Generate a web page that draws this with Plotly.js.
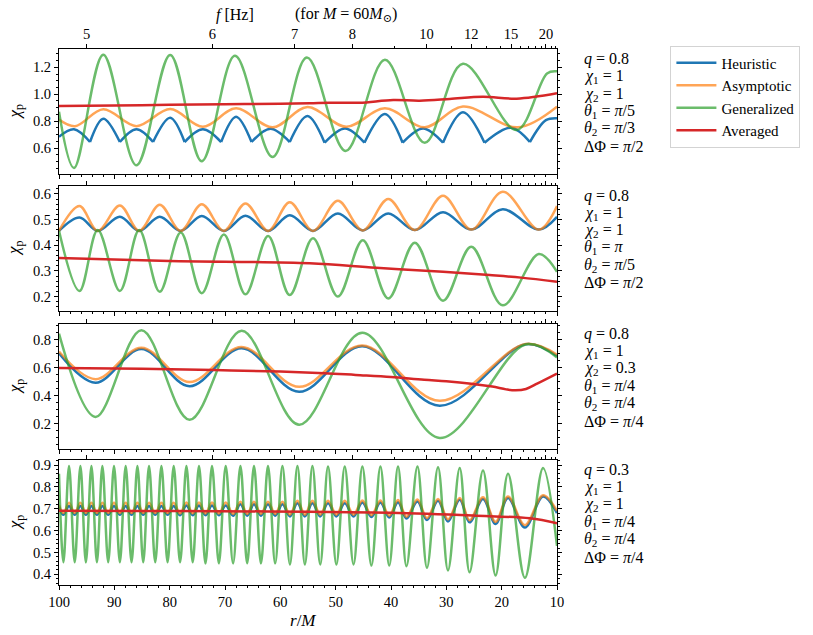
<!DOCTYPE html>
<html>
<head>
<meta charset="utf-8">
<script src="https://cdn.plot.ly/plotly-3.0.1.min.js"></script>
<style>
  body { margin: 0; background: #fff; }
  #chart { width: 813px; height: 635px; }
</style>
</head>
<body>
<div id="chart"></div>
<script>
// values: r/M positions of turning points and chi_p there

// panel 1
const p1GreenR = [100, 97.3, 92.0, 86.0, 79.9, 74.2, 68.2, 61.4, 55.2, 48.2, 41.1, 33.9, 27.0, 17.3, 11.8, 10];
const p1GreenV = [0.87, 0.452, 1.293, 0.472, 1.291, 0.502, 1.286, 0.534, 1.273, 0.579, 1.256, 0.639, 1.226, 0.734, 1.155, 1.17];
const p1OrangeR = [100, 97.1, 92.0, 86.0, 79.9, 74.0, 68.0, 61.4, 55.1, 48.1, 41.1, 33.9, 27.0, 17.1, 10];
const p1OrangeV = [0.813, 0.763, 0.888, 0.763, 0.890, 0.758, 0.895, 0.754, 0.905, 0.758, 0.895, 0.754, 0.908, 0.754, 0.908];
// heuristic curve has cusps: knots are the cusps, arches are the humps between them
const p1BlueKnotR = [100, 94.4, 89.0, 83.0, 77.3, 70.7, 65.2, 58.3, 52.0, 44.8, 37.9, 30.6, 23.1, 14.9, 10];
const p1BlueKnotV = [0.684, 0.645, 0.645, 0.645, 0.645, 0.645, 0.645, 0.645, 0.64, 0.64, 0.64, 0.64, 0.64, 0.645, 0.822];
const p1BlueArchR = [97.3, 92.0, 86.0, 79.9, 74.0, 68.0, 61.8, 55.1, 48.3, 41.1, 34.2, 27.0, 18.3, 12.0];
const p1BlueArchV = [0.739, 0.818, 0.739, 0.825, 0.739, 0.833, 0.743, 0.838, 0.746, 0.853, 0.746, 0.866, 0.751, 0.808];
const p1RedR = [100, 90, 80, 70, 60, 54.7, 51.1, 45.7, 39.6, 34.8, 29.4, 23.4, 17.3, 10];
const p1RedV = [0.912, 0.916, 0.921, 0.926, 0.929, 0.933, 0.937, 0.937, 0.957, 0.952, 0.965, 0.982, 0.967, 1.007];

// panel 2
const p2R = [100, 96.3, 93.0, 89.0, 85.5, 81.8, 78.0, 74.2, 70.2, 66.3, 62.2, 58.3, 54.1, 49.6, 45.1, 40.5, 35.7, 30.6, 25.5, 19.8, 13.3, 10];
const p2BlueV = [0.456, 0.508, 0.456, 0.511, 0.456, 0.511, 0.456, 0.514, 0.456, 0.515, 0.456, 0.517, 0.456, 0.524, 0.458, 0.524, 0.459, 0.529, 0.461, 0.54, 0.461, 0.511];
const p2OrangeV = [0.456, 0.553, 0.456, 0.555, 0.456, 0.558, 0.456, 0.56, 0.456, 0.563, 0.456, 0.568, 0.456, 0.573, 0.458, 0.58, 0.459, 0.593, 0.461, 0.608, 0.461, 0.553];
const p2GreenV = [0.456, 0.222, 0.459, 0.222, 0.459, 0.219, 0.45, 0.213, 0.442, 0.209, 0.436, 0.206, 0.427, 0.2, 0.42, 0.193, 0.41, 0.184, 0.394, 0.166, 0.366, 0.297];
const p2RedR = [100, 80, 54.7, 42.7, 30.6, 22.2, 16.5, 10];
const p2RedV = [0.350, 0.339, 0.330, 0.312, 0.297, 0.284, 0.274, 0.258];

// panel 3
const p3R = [100, 93.4, 85.1, 76.4, 67.0, 56.6, 45.2, 31.2, 15.7, 10];
const p3BlueV = [0.705, 0.495, 0.735, 0.47, 0.74, 0.43, 0.755, 0.33, 0.77, 0.685];
const p3OrangeV = [0.718, 0.52, 0.745, 0.50, 0.75, 0.465, 0.76, 0.365, 0.772, 0.695];
const p3GreenV = [0.845, 0.25, 0.87, 0.23, 0.865, 0.195, 0.852, 0.10, 0.768, 0.675];
const p3RedR = [100, 85, 72, 60, 52, 46.4, 40, 34, 30, 25.5, 21.7, 19.2, 17.5, 15.6, 13.5, 10];
const p3RedV = [0.600, 0.594, 0.585, 0.575, 0.563, 0.55, 0.535, 0.515, 0.505, 0.488, 0.467, 0.447, 0.44, 0.45, 0.49, 0.56];

// panel 4 (fast oscillation: troughs and peaks alternate, trough k comes before peak k)
const p4TroughR = [99.2, 97.16, 95.14, 93.15, 91.11, 89.0, 86.89, 84.78, 82.61, 80.38, 78.12, 75.84, 73.53, 71.11, 68.54, 65.99,
  63.5, 60.93, 58.27, 55.56, 52.79, 49.87, 46.77, 43.54, 40.32, 37.2, 33.5, 29.7, 25.8, 21.1, 15.8];
const p4PeakR = [98.19, 96.13, 94.14, 92.16, 90.06, 87.95, 85.83, 83.73, 81.49, 79.27, 76.97, 74.70, 72.35, 69.87, 67.21, 64.76,
  62.23, 59.62, 56.91, 54.20, 51.38, 48.36, 45.17, 41.91, 38.73, 35.22, 31.50, 27.58, 23.37, 18.85, 12.52];
const p4GreenTroughV = [0.455, 0.455, 0.455, 0.455, 0.455, 0.455, 0.455, 0.455, 0.455, 0.455, 0.455, 0.455, 0.45, 0.45, 0.45, 0.45,
  0.45, 0.45, 0.445, 0.445, 0.445, 0.445, 0.445, 0.44, 0.44, 0.437, 0.43, 0.418, 0.409, 0.395, 0.384];
const p4GreenPeakV = [0.895, 0.895, 0.895, 0.895, 0.895, 0.895, 0.895, 0.895, 0.895, 0.895, 0.895, 0.895, 0.895, 0.895, 0.895, 0.895,
  0.895, 0.895, 0.895, 0.895, 0.893, 0.893, 0.893, 0.893, 0.893, 0.893, 0.89, 0.886, 0.875, 0.86, 0.886];
const p4BlueTroughV = [0.672, 0.672, 0.672, 0.672, 0.672, 0.672, 0.672, 0.672, 0.672, 0.672, 0.67, 0.67, 0.67, 0.67, 0.668, 0.668,
  0.668, 0.668, 0.665, 0.665, 0.665, 0.665, 0.665, 0.662, 0.66, 0.655, 0.648, 0.642, 0.638, 0.63, 0.614];
const p4BluePeakV = [0.712, 0.712, 0.712, 0.712, 0.712, 0.712, 0.712, 0.712, 0.712, 0.712, 0.715, 0.715, 0.715, 0.715, 0.72, 0.72,
  0.72, 0.72, 0.725, 0.725, 0.725, 0.725, 0.728, 0.728, 0.73, 0.733, 0.737, 0.741, 0.745, 0.749, 0.756];
const p4OrangeTroughV = [0.68, 0.68, 0.68, 0.68, 0.68, 0.68, 0.68, 0.68, 0.68, 0.68, 0.678, 0.678, 0.678, 0.678, 0.676, 0.676,
  0.676, 0.676, 0.673, 0.673, 0.673, 0.673, 0.673, 0.67, 0.668, 0.663, 0.657, 0.651, 0.647, 0.64, 0.625];
const p4OrangePeakV = [0.727, 0.727, 0.727, 0.727, 0.727, 0.727, 0.727, 0.727, 0.727, 0.727, 0.728, 0.728, 0.728, 0.728, 0.732, 0.732,
  0.732, 0.732, 0.736, 0.736, 0.736, 0.736, 0.738, 0.738, 0.74, 0.742, 0.745, 0.749, 0.752, 0.756, 0.762];
const p4Ends = { blue: [0.708, 0.68], orange: [0.716, 0.69], green: [0.86, 0.53] };
const p4RedR = [100, 85, 71, 55, 40.2, 25.2, 14.9, 10];
const p4RedV = [0.691, 0.690, 0.689, 0.686, 0.682, 0.669, 0.656, 0.633];

// top frequency axis: r/M where each f tick sits
const fTickLabels = ['5', '6', '7', '8', '10', '12', '15', '20'];
const fTickR = [95.0, 72.3, 57.4, 47.0, 33.6, 25.5, 18.3, 12.0];
const fMinorR = [39.3, 29.1, 22.7, 20.3, 16.6, 15.2, 13.9, 12.8, 11.0, 10.3];

const seriesNames = ['Heuristic', 'Asymptotic', 'Generalized', 'Averaged'];

const panelParams = [
  ['<i>q</i> = 0.8', '<i>χ</i><sub>1</sub> = 1', '<i>χ</i><sub>2</sub> = 1', '<i>θ</i><sub>1</sub> = <i>π</i>/5', '<i>θ</i><sub>2</sub> = <i>π</i>/3', 'ΔΦ = <i>π</i>/2'],
  ['<i>q</i> = 0.8', '<i>χ</i><sub>1</sub> = 1', '<i>χ</i><sub>2</sub> = 1', '<i>θ</i><sub>1</sub> = <i>π</i>', '<i>θ</i><sub>2</sub> = <i>π</i>/5', 'ΔΦ = <i>π</i>/2'],
  ['<i>q</i> = 0.8', '<i>χ</i><sub>1</sub> = 1', '<i>χ</i><sub>2</sub> = 0.3', '<i>θ</i><sub>1</sub> = <i>π</i>/4', '<i>θ</i><sub>2</sub> = <i>π</i>/4', 'ΔΦ = <i>π</i>/4'],
  ['<i>q</i> = 0.3', '<i>χ</i><sub>1</sub> = 1', '<i>χ</i><sub>2</sub> = 1', '<i>θ</i><sub>1</sub> = <i>π</i>/4', '<i>θ</i><sub>2</sub> = <i>π</i>/4', 'ΔΦ = <i>π</i>/4'],
];

// layout geometry (page pixels)
const L = 59.3, R = 557.3, T = 49, B = 585;
const panelTop = [49.3, 185.7, 324, 460];
const panelBottom = [174.3, 311, 449.3, 585];
const yRanges = [[0.405, 1.334], [0.144, 0.632], [0.019, 0.914], [0.351, 0.923]];
const yDtick = [0.2, 0.1, 0.2, 0.1];
const yMinor = [0.05, 0.02, 0.05, 0.02];

const px = x => (x - L) / (R - L);
const py = y => (B - y) / (B - T);
const axId = (k, p) => k + (p === 1 ? '' : p);

const FONT = '"Liberation Serif", "DejaVu Serif", "Noto Serif", serif';
const colors = ['#1f77b4', 'rgba(255,127,14,0.7)', 'rgba(44,160,44,0.7)', '#d62728'];

function curve(x, y, c, p) {
  return {
    x, y, type: 'scatter', mode: 'lines',
    line: { color: colors[c], width: 2.5, shape: 'spline', smoothing: 1 },
    xaxis: axId('x', p), yaxis: axId('y', p),
    name: seriesNames[c], showlegend: p === 1, hoverinfo: 'skip'
  };
}

function zigzag(start, troughV, peakV, end) {
  const x = [100], y = [start];
  for (let k = 0; k < p4TroughR.length; k++) {
    x.push(p4TroughR[k], p4PeakR[k]);
    y.push(troughV[k], peakV[k]);
  }
  x.push(10); y.push(end);
  return { x, y };
}

// arches of the heuristic curve, split at the cusps
const p1bx = [], p1by = [];
for (let i = 0; i < p1BlueArchR.length; i++) {
  p1bx.push(p1BlueKnotR[i], p1BlueArchR[i], p1BlueKnotR[i + 1], null);
  p1by.push(p1BlueKnotV[i], p1BlueArchV[i], p1BlueKnotV[i + 1], null);
}

const b4 = zigzag(p4Ends.blue[0], p4BlueTroughV, p4BluePeakV, p4Ends.blue[1]);
const o4 = zigzag(p4Ends.orange[0], p4OrangeTroughV, p4OrangePeakV, p4Ends.orange[1]);
const g4 = zigzag(p4Ends.green[0], p4GreenTroughV, p4GreenPeakV, p4Ends.green[1]);

const data = [
  curve(p1bx, p1by, 0, 1), curve(p1OrangeR, p1OrangeV, 1, 1), curve(p1GreenR, p1GreenV, 2, 1), curve(p1RedR, p1RedV, 3, 1),
  curve(p2R, p2BlueV, 0, 2), curve(p2R, p2OrangeV, 1, 2), curve(p2R, p2GreenV, 2, 2), curve(p2RedR, p2RedV, 3, 2),
  curve(p3R, p3BlueV, 0, 3), curve(p3R, p3OrangeV, 1, 3), curve(p3R, p3GreenV, 2, 3), curve(p3RedR, p3RedV, 3, 3),
  curve(b4.x, b4.y, 0, 4), curve(o4.x, o4.y, 1, 4), curve(g4.x, g4.y, 2, 4), curve(p4RedR, p4RedV, 3, 4),
];

// empty traces so the top frequency axes get their own subplots
for (let p = 1; p <= 4; p++) {
  data.push({
    x: [fTickR[0]], y: [null], type: 'scatter', mode: 'lines',
    xaxis: 'x' + (4 + p), yaxis: axId('y', p), showlegend: false, hoverinfo: 'skip'
  });
}

const tickFont = { family: FONT, size: 14.5, color: '#000' };
const layout = {
  width: 813, height: 635,
  margin: { l: L, r: 813 - R, t: T, b: 635 - B },
  paper_bgcolor: '#fff', plot_bgcolor: '#fff',
  hovermode: false,
  font: { family: FONT, color: '#000' },
  showlegend: true,
  legend: {
    x: px(670.7), y: py(45.5), xanchor: 'left', yanchor: 'top',
    bgcolor: '#fff', bordercolor: '#d3d3d3', borderwidth: 1,
    itemwidth: 40,
    font: { family: FONT, size: 15, color: '#000' }
  },
  annotations: []
};

for (let p = 1; p <= 4; p++) {
  const dom = [py(panelBottom[p - 1]), py(panelTop[p - 1])];
  layout[axId('xaxis', p)] = {
    domain: [0, 1], anchor: axId('y', p), range: [100, 10],
    tickmode: 'linear', tick0: 0, dtick: 10, showticklabels: p === 4,
    ticks: 'outside', ticklen: 4, tickwidth: 1, tickcolor: '#000',
    minor: { dtick: 2, tick0: 0, ticks: 'outside', ticklen: 2, tickwidth: 1, tickcolor: '#000' },
    showline: true, linecolor: '#000', linewidth: 1,
    showgrid: false, zeroline: false, tickfont: tickFont
  };
  layout['xaxis' + (4 + p)] = {
    overlaying: axId('x', p), anchor: axId('y', p), side: 'top', range: [100, 10],
    tickmode: 'array', tickvals: fTickR, ticktext: fTickLabels, showticklabels: p === 1,
    ticks: 'outside', ticklen: 4, tickwidth: 1, tickcolor: '#000',
    minor: { tickmode: 'array', tickvals: fMinorR, ticks: 'outside', ticklen: 2, tickwidth: 1, tickcolor: '#000' },
    showline: true, linecolor: '#000', linewidth: 1,
    showgrid: false, zeroline: false, tickfont: tickFont
  };
  layout[axId('yaxis', p)] = {
    domain: dom, anchor: axId('x', p), range: yRanges[p - 1],
    tickmode: 'linear', tick0: 0, dtick: yDtick[p - 1], tickformat: '.1f',
    ticks: 'outside', ticklen: 4, tickwidth: 1, tickcolor: '#000',
    minor: { dtick: yMinor[p - 1], tick0: 0, ticks: 'outside', ticklen: 2, tickwidth: 1, tickcolor: '#000' },
    mirror: 'ticks', showline: true, linecolor: '#000', linewidth: 1,
    showgrid: false, zeroline: false, tickfont: tickFont
  };

  // chi_p label
  layout.annotations.push({
    xref: 'paper', yref: 'paper', x: px(16), y: (dom[0] + dom[1]) / 2,
    text: '<i>χ</i><sub>p</sub>', textangle: -90, showarrow: false,
    xanchor: 'center', yanchor: 'middle', font: { family: FONT, size: 17, color: '#000' }
  });

  // parameter block on the right
  panelParams[p - 1].forEach((txt, i) => {
    layout.annotations.push({
      xref: 'paper', yref: 'paper', x: px(582.7), y: py(panelTop[p - 1] + 10 + i * 17.4),
      text: txt, showarrow: false, xanchor: 'left', yanchor: 'middle',
      font: { family: FONT, size: 16, color: '#000' }
    });
  });
}

layout.annotations.push(
  { xref: 'paper', yref: 'paper', x: px(303), y: py(620), text: '<i>r</i>/<i>M</i>', showarrow: false,
    xanchor: 'center', yanchor: 'middle', font: { family: FONT, size: 17, color: '#000' } },
  { xref: 'paper', yref: 'paper', x: px(235), y: py(15), text: '<i>f</i> [Hz]', showarrow: false,
    xanchor: 'center', yanchor: 'middle', font: { family: FONT, size: 16, color: '#000' } },
  { xref: 'paper', yref: 'paper', x: px(346), y: py(15), text: '(for <i>M</i> = 60<i>M</i><sub>⊙</sub>)', showarrow: false,
    xanchor: 'center', yanchor: 'middle', font: { family: FONT, size: 16, color: '#000' } }
);

Plotly.newPlot('chart', data, layout, { staticPlot: true, displayModeBar: false });
</script>
</body>
</html>
